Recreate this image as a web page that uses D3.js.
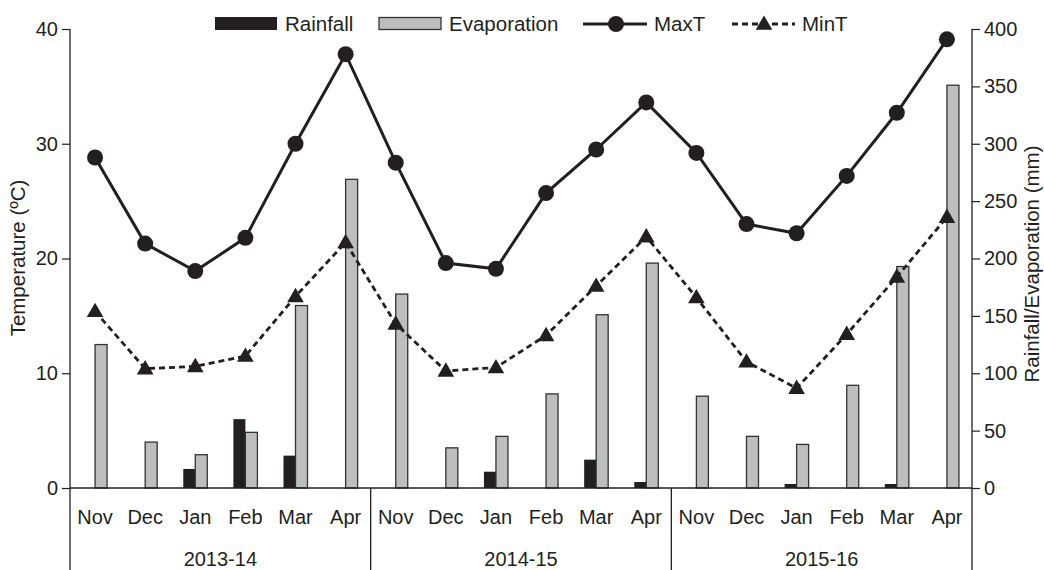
<!DOCTYPE html>
<html>
<head>
<meta charset="utf-8">
<script src="https://cdn.jsdelivr.net/npm/d3@7/dist/d3.min.js"></script>
<style>
  body { margin: 0; background: #fff; }
  svg { display: block; font-family: "Liberation Sans", Arial, sans-serif; }
  text { fill: #231f20; }
</style>
</head>
<body>
<svg width="1044" height="570"></svg>
<script>
"use strict";

const seasons = ["2013-14", "2014-15", "2015-16"];
const months = ["Nov", "Dec", "Jan", "Feb", "Mar", "Apr"];

// mm
const rainfall = [0, 0, 16.6, 60, 28.2, 0, 0, 0, 14.2, 0, 24.7, 5.2, 0, 0, 3.5, 0, 3.5, 0];
const evaporation = [125, 40, 29, 48.5, 159, 269, 169, 35, 45, 82, 151, 196, 80, 45, 38, 89.5, 193, 351];
// degC
const maxT = [28.8, 21.3, 18.9, 21.8, 30.0, 37.8, 28.35, 19.6, 19.1, 25.7, 29.5, 33.6, 29.2, 23.0, 22.2, 27.2, 32.7, 39.1];
const minT = [15.4, 10.4, 10.6, 11.5, 16.7, 21.4, 14.3, 10.2, 10.5, 13.3, 17.6, 21.9, 16.6, 11.0, 8.7, 13.4, 18.4, 23.6];

const tempTicks = [0, 10, 20, 30, 40];
const mmTicks = [0, 50, 100, 150, 200, 250, 300, 350, 400];

const ink = "#231f20";
const grey = "#bcbec0";

// one key per month of each season
const keys = [];
seasons.forEach((s) => months.forEach((m) => keys.push(s + "|" + m)));

const mLeft = 70, mRight = 972, mTop = 29, mBottom = 488, mFoot = 570;

const svg = d3.select("svg");

const x = d3.scaleBand().domain(keys).range([mLeft, mRight]).padding(0);
const season = d3.scaleBand().domain(seasons).range([mLeft, mRight]).padding(0);
const yT = d3.scaleLinear().domain([0, 40]).range([mBottom, mTop]);
const yMM = d3.scaleLinear().domain([0, 400]).range([mBottom, mTop]);

const barW = 12;
const cx = (d) => x(d) + x.bandwidth() / 2;

// bars: rainfall left of the month centre, evaporation right of it
svg.append("g")
  .selectAll("rect")
  .data(keys)
  .enter()
  .append("rect")
  .attr("x", (d) => cx(d) - barW)
  .attr("y", (d, i) => yMM(rainfall[i]))
  .attr("width", barW)
  .attr("height", (d, i) => mBottom - yMM(rainfall[i]))
  .attr("fill", ink);

svg.append("g")
  .selectAll("rect")
  .data(keys)
  .enter()
  .append("rect")
  .attr("x", (d) => cx(d))
  .attr("y", (d, i) => yMM(evaporation[i]))
  .attr("width", barW)
  .attr("height", (d, i) => mBottom - yMM(evaporation[i]))
  .attr("fill", grey)
  .attr("stroke", "#333")
  .attr("stroke-width", 1.3);

// temperature lines
const lineMax = d3.line().x((d) => cx(d)).y((d, i) => yT(maxT[i]));
const lineMin = d3.line().x((d) => cx(d)).y((d, i) => yT(minT[i]));

svg.append("path")
  .attr("d", lineMin(keys))
  .attr("fill", "none")
  .attr("stroke", ink)
  .attr("stroke-width", 2.8)
  .attr("stroke-dasharray", "6,4");

svg.append("path")
  .attr("d", lineMax(keys))
  .attr("fill", "none")
  .attr("stroke", ink)
  .attr("stroke-width", 3);

svg.append("g")
  .selectAll("circle")
  .data(keys)
  .enter()
  .append("circle")
  .attr("cx", cx)
  .attr("cy", (d, i) => yT(maxT[i]))
  .attr("r", 8)
  .attr("fill", ink);

const tri = d3.symbol().type(d3.symbolTriangle).size(120);
svg.append("g")
  .selectAll("path")
  .data(keys)
  .enter()
  .append("path")
  .attr("d", tri)
  .attr("transform", (d, i) => `translate(${cx(d)},${yT(minT[i]) + 1})`)
  .attr("fill", ink);

// axes
const leftAxis = d3.axisLeft(yT).tickValues(tempTicks).tickSize(8).tickPadding(4);
const rightAxis = d3.axisRight(yMM).tickValues(mmTicks).tickSize(8).tickPadding(4);

function styleAxis(g) {
  g.select(".domain").remove();
  g.selectAll(".tick line").attr("stroke", ink).attr("stroke-width", 1.2);
  g.selectAll(".tick text").attr("font-size", 20).attr("fill", ink);
}

svg.append("g").attr("transform", `translate(${mLeft},0)`).call(leftAxis).call(styleAxis);
svg.append("g").attr("transform", `translate(${mRight},0)`).call(rightAxis).call(styleAxis);

// frame lines: the two vertical axes run down to the foot, season dividers below the baseline
svg.append("g")
  .selectAll("line")
  .data([mLeft, mRight])
  .enter()
  .append("line")
  .attr("x1", (d) => d).attr("x2", (d) => d)
  .attr("y1", mTop).attr("y2", mFoot)
  .attr("stroke", ink).attr("stroke-width", 1.3);

svg.append("line")
  .attr("x1", mLeft).attr("x2", mRight)
  .attr("y1", mBottom).attr("y2", mBottom)
  .attr("stroke", ink).attr("stroke-width", 1.3);

svg.append("g")
  .selectAll("line")
  .data(seasons.slice(1))
  .enter()
  .append("line")
  .attr("x1", (d) => season(d)).attr("x2", (d) => season(d))
  .attr("y1", mBottom).attr("y2", mFoot)
  .attr("stroke", ink).attr("stroke-width", 1.3);

// month and season labels
svg.append("g")
  .selectAll("text")
  .data(keys)
  .enter()
  .append("text")
  .attr("x", cx)
  .attr("y", 524)
  .attr("text-anchor", "middle")
  .attr("font-size", 20)
  .text((d) => d.split("|")[1]);

svg.append("g")
  .selectAll("text")
  .data(seasons)
  .enter()
  .append("text")
  .attr("x", (d) => season(d) + season.bandwidth() / 2)
  .attr("y", 566)
  .attr("text-anchor", "middle")
  .attr("font-size", 20)
  .text((d) => d);

// axis titles
svg.append("text")
  .attr("transform", "translate(25,258) rotate(-90)")
  .attr("text-anchor", "middle")
  .attr("font-size", 20.5)
  .text("Temperature (ºC)");

svg.append("text")
  .attr("transform", "translate(1039,264) rotate(-90)")
  .attr("text-anchor", "middle")
  .attr("font-size", 20.5)
  .text("Rainfall/Evaporation (mm)");

// legend
const lg = svg.append("g").attr("font-size", 20.5);
lg.append("rect").attr("x", 215).attr("y", 17).attr("width", 62).attr("height", 13).attr("fill", ink);
lg.append("text").attr("x", 285).attr("y", 31).text("Rainfall");
lg.append("rect").attr("x", 379).attr("y", 17.5).attr("width", 62).attr("height", 12)
  .attr("fill", grey).attr("stroke", "#333").attr("stroke-width", 1.3);
lg.append("text").attr("x", 449).attr("y", 31).text("Evaporation");
lg.append("line").attr("x1", 583).attr("x2", 647).attr("y1", 24).attr("y2", 24)
  .attr("stroke", ink).attr("stroke-width", 3);
lg.append("circle").attr("cx", 616).attr("cy", 24).attr("r", 8).attr("fill", ink);
lg.append("text").attr("x", 654).attr("y", 31).text("MaxT");
lg.append("line").attr("x1", 732).attr("x2", 795).attr("y1", 24).attr("y2", 24)
  .attr("stroke", ink).attr("stroke-width", 2.8).attr("stroke-dasharray", "6,4");
lg.append("path").attr("d", tri).attr("transform", "translate(764,25)").attr("fill", ink);
lg.append("text").attr("x", 802).attr("y", 31).text("MinT");
</script>
</body>
</html>
